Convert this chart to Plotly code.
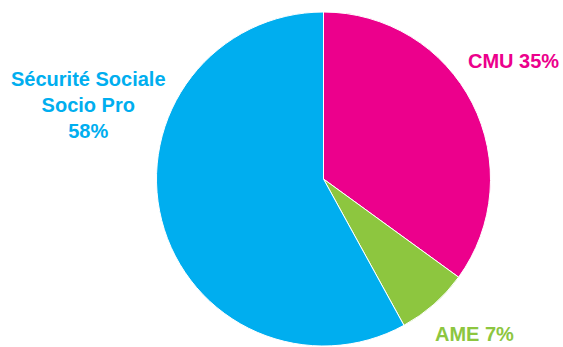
import plotly.graph_objects as go

labels = ["CMU", "AME", "Sécurité Sociale Socio Pro"]
values = [35, 7, 58]
colors = ["#EC008C", "#8DC63F", "#00AEEF"]
label_texts = ["CMU 35%", "AME 7%", "Sécurité Sociale<br>Socio Pro<br>58%"]

W, H = 563, 347
fig = go.Figure(go.Pie(
    labels=labels, values=values, sort=False, direction="clockwise", rotation=0,
    marker=dict(colors=colors, line=dict(color="white", width=1)),
    textinfo="none", hoverinfo="label+percent", showlegend=False,
    domain=dict(x=[156 / W, 491 / W], y=[1 - 346 / H, 1 - 12 / H]),
))

font_family = "Liberation Sans Narrow, Arial Narrow, sans-serif"
pos = [(513, 61), (474, 334), (88, 105)]
for t, c, (px, py) in zip(label_texts, colors, pos):
    fig.add_annotation(
        x=px / W, y=1 - py / H, xref="paper", yref="paper", text="<b>" + t + "</b>",
        showarrow=False, align="center", xanchor="center", yanchor="middle",
        font=dict(family=font_family, size=20, color=c),
    )

fig.update_layout(
    width=W, height=H, margin=dict(l=0, r=0, t=0, b=0),
    paper_bgcolor="white", plot_bgcolor="white",
)
fig.write_html("out.html")
